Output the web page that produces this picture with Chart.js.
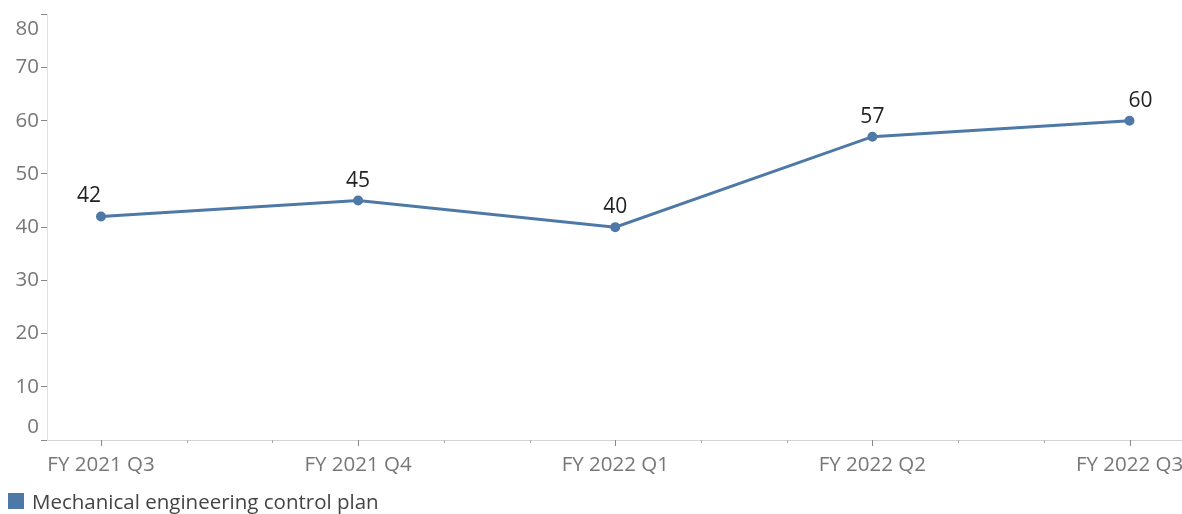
<!DOCTYPE html>
<html>
<head>
<meta charset="utf-8">
<script src="https://cdn.jsdelivr.net/npm/chart.js@4.4.1/dist/chart.umd.min.js"></script>
<style>
  html, body { margin: 0; padding: 0; background: #fff; overflow: hidden; }
  #wrap { position: relative; width: 1182px; height: 514px; overflow: hidden; }
  #legend { position: absolute; left: 8px; top: 490px; height: 22px; line-height: 22px; font: 20.5px/22px "Open Sans", sans-serif; color: #444; display: flex; align-items: center; }
  #legend span.sw { display: inline-block; width: 16px; height: 16px; background: #4e79a7; margin-right: 8px; }
</style>
</head>
<body>
<div id="wrap">
  <canvas id="chart" width="1190" height="514"></canvas>
  <div id="legend"></div>
</div>
<script>
const categories = ['FY 2021 Q3', 'FY 2021 Q4', 'FY 2022 Q1', 'FY 2022 Q2', 'FY 2022 Q3'];
const values = [42, 45, 40, 57, 60];
const seriesName = 'Mechanical engineering control plan';
const yTicks = [0, 10, 20, 30, 40, 50, 60, 70, 80];

const lineColor = '#4e79a7';
const font = '"Open Sans", sans-serif';

document.getElementById('legend').innerHTML = '<span class="sw"></span>' + seriesName;

// value labels above points, nudged sideways at the ends like the original
const labelShift = [-12, 0, 0, 0, 11];
const pointLabels = {
  id: 'pointLabels',
  afterDatasetsDraw(chart) {
    const ctx = chart.ctx;
    const meta = chart.getDatasetMeta(0);
    ctx.save();
    ctx.font = '21px ' + font;
    ctx.fillStyle = '#222';
    ctx.textAlign = 'center';
    ctx.textBaseline = 'middle';
    meta.data.forEach((pt, i) => {
      ctx.fillText(String(values[i]), pt.x + labelShift[i], pt.y - 20);
    });
    ctx.restore();
  }
};

// y end labels pulled inward, x ticks (major at quarters, minor at months)
const axisExtras = {
  id: 'axisExtras',
  afterDraw(chart) {
    const ctx = chart.ctx;
    const y = chart.scales.y, x = chart.scales.x;
    ctx.save();
    ctx.font = '20.5px ' + font;
    ctx.fillStyle = '#777';
    ctx.textAlign = 'right';
    ctx.textBaseline = 'middle';
    ctx.fillText('80', 39, y.getPixelForValue(80) + 15);
    ctx.fillText('0', 39, y.getPixelForValue(0) - 13);
    const base = chart.chartArea.bottom;
    x.ticks.forEach(t => {
      const px = Math.round(x.getPixelForValue(t.value)) + 0.5;
      const major = Math.abs(t.value - Math.round(t.value)) < 1e-6;
      ctx.strokeStyle = major ? '#888' : '#aaa';
      ctx.lineWidth = 1;
      ctx.beginPath();
      ctx.moveTo(px, base);
      ctx.lineTo(px, base + (major ? 6 : 3));
      ctx.stroke();
    });
    ctx.restore();
  }
};

new Chart(document.getElementById('chart'), {
  type: 'line',
  data: {
    datasets: [{
      label: seriesName,
      data: values.map((v, i) => ({ x: i, y: v })),
      borderColor: lineColor,
      backgroundColor: lineColor,
      borderWidth: 3,
      pointRadius: 3.5,
      pointHoverRadius: 3.5,
      tension: 0
    }]
  },
  options: {
    responsive: false,
    animation: false,
    layout: { padding: { top: 13, right: 0, bottom: 30, left: 0 } },
    plugins: { legend: { display: false }, tooltip: { enabled: false } },
    scales: {
      x: {
        type: 'linear',
        min: -0.21,
        max: 4.21,
        afterBuildTicks(scale) {
          const t = [];
          for (let k = 0; k <= 12; k++) t.push({ value: k / 3 });
          scale.ticks = t;
        },
        afterFit(scale) {
          scale.height = 44;
          scale.paddingLeft = 0;
          scale.paddingRight = 0;
        },
        grid: { display: true, drawOnChartArea: false, drawTicks: false },
        border: { display: true, color: '#d4d4d4', dash: [2, 2], width: 1 },
        ticks: {
          autoSkip: false,
          maxRotation: 0,
          padding: 13,
          color: '#777',
          font: { family: font, size: 20.5 },
          callback(v) {
            const r = Math.round(v);
            return Math.abs(v - r) < 1e-6 ? categories[r] : '';
          }
        }
      },
      y: {
        min: 0,
        max: 80,
        afterBuildTicks(scale) {
          scale.ticks = yTicks.map(v => ({ value: v }));
        },
        afterFit(scale) {
          scale.width = 47;
        },
        grid: { drawOnChartArea: false, drawTicks: true, tickLength: 6, color: '#888' },
        border: { color: '#e0e0e0', width: 1 },
        ticks: {
          padding: 2,
          color: '#777',
          font: { family: font, size: 20.5 },
          callback(v) {
            return (v === 0 || v === 80) ? '' : String(v);
          }
        }
      }
    }
  },
  plugins: [pointLabels, axisExtras]
});
</script>
</body>
</html>
